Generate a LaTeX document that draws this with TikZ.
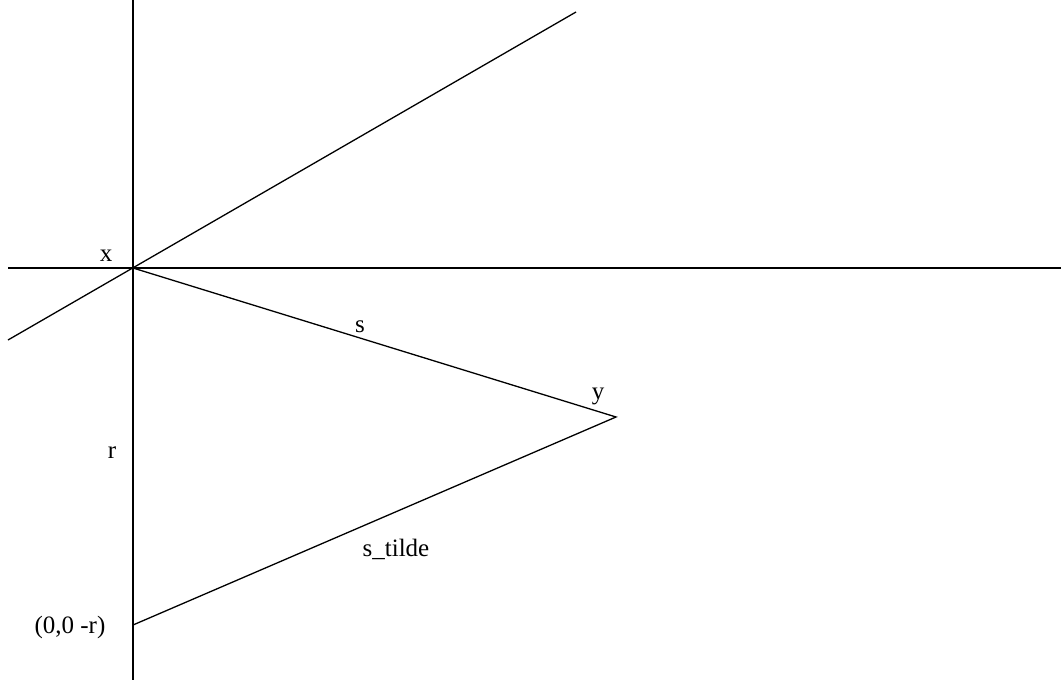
\documentclass[tikz,border=0pt]{standalone}
\usepackage{fontspec}
\setmainfont{Liberation Serif}
\usepackage{tikz}
\usetikzlibrary{arrows.meta}

\begin{document}
\begin{tikzpicture}[x=1pt, y=-1pt, line width=1.3pt,
    lbl/.style={font=\fontsize{25}{30}\selectfont, inner sep=0pt, anchor=base}]
  \useasboundingbox (0,0) rectangle (1061,680);
  % pontos
  \coordinate (x) at (133,268);
  \coordinate (y) at (616,417);
  \coordinate (r0) at (133,625);
  % eixos
  \coordinate (vtop) at (133,0);
  \coordinate (vbot) at (133,680);
  \coordinate (hl) at (8,268);
  \coordinate (hr) at (1061,268);
  \draw (vtop) -- (vbot);
  \draw (hl) -- (hr);
  % reta inclinada por x
  \coordinate (dl) at (8,340);
  \coordinate (dr) at (576,12);
  \draw (dl) -- (dr);
  % triangulo
  \draw (x) -- (y) -- (r0);
  % rotulos
  \node[lbl] (lx) at (106,261) {x};
  \node[lbl] (ls) at (360,332) {s};
  \node[lbl] (ly) at (598,399) {y};
  \node[lbl] (lr) at (112,458) {r};
  \node[lbl] (lst) at (396,556) {s\_tilde};
  \node[lbl] (lr0) at (70,633) {(0,0 -r)};
\end{tikzpicture}
\end{document}
